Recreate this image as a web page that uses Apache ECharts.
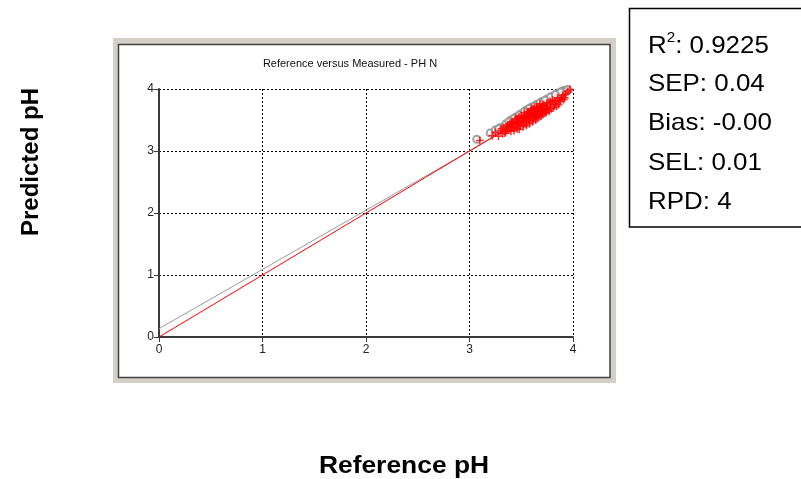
<!DOCTYPE html>
<html>
<head>
<meta charset="utf-8">
<script src="https://cdn.jsdelivr.net/npm/echarts@6/dist/echarts.min.js"></script>
<style>
  html, body { margin: 0; padding: 0; background: #ffffff; }
  #chart { width: 801px; height: 479px; }
</style>
</head>
<body>
<div id="chart"></div>
<script>
// Axis ticks
const axisTicks = [0, 1, 2, 3, 4];

// Validation samples (red crosses): reference pH vs predicted pH
const crossRef = [3.10, 3.22, 3.25, 3.28, 3.30, 3.32, 3.33, 3.35, 3.36, 3.38, 3.39, 3.40, 3.41, 3.42, 3.43,
  3.44, 3.45, 3.46, 3.47, 3.48, 3.49, 3.50, 3.51, 3.52, 3.53, 3.54, 3.55, 3.56, 3.57, 3.58, 3.59, 3.60,
  3.61, 3.62, 3.63, 3.64, 3.65, 3.66, 3.67, 3.68, 3.69, 3.70, 3.71, 3.72, 3.73, 3.74, 3.75, 3.76, 3.78,
  3.80, 3.81, 3.83, 3.85, 3.86, 3.88, 3.90, 3.92, 3.95, 3.97, 3.50, 3.55, 3.60, 3.65, 3.58, 3.62,
  3.31, 3.34, 3.37, 3.40, 3.42, 3.44, 3.46, 3.48, 3.50, 3.52, 3.53, 3.55, 3.56, 3.58, 3.59, 3.61,
  3.62, 3.64, 3.65, 3.66, 3.67, 3.69, 3.70, 3.71, 3.72, 3.74, 3.75, 3.77, 3.78, 3.79, 3.82, 3.84,
  3.87, 3.89, 3.91, 3.93, 3.45, 3.48, 3.53, 3.57, 3.60, 3.63, 3.68, 3.52, 3.57, 3.62, 3.66, 3.70,
  3.74, 3.40, 3.36, 3.47, 3.55, 3.63, 3.69];
const crossPred = [3.17, 3.25, 3.30, 3.24, 3.33, 3.28, 3.38, 3.31, 3.40, 3.34, 3.44, 3.37, 3.47, 3.40, 3.33,
  3.50, 3.43, 3.36, 3.53, 3.46, 3.40, 3.56, 3.49, 3.43, 3.58, 3.52, 3.46, 3.62, 3.55, 3.49, 3.65, 3.58,
  3.51, 3.68, 3.61, 3.55, 3.70, 3.63, 3.57, 3.73, 3.66, 3.60, 3.75, 3.68, 3.62, 3.72, 3.78, 3.66, 3.75,
  3.82, 3.70, 3.79, 3.86, 3.75, 3.82, 3.90, 3.86, 3.96, 3.99, 3.52, 3.58, 3.63, 3.67, 3.60, 3.66,
  3.36, 3.29, 3.42, 3.32, 3.46, 3.38, 3.48, 3.35, 3.47, 3.39, 3.52, 3.41, 3.55, 3.44, 3.58, 3.47,
  3.60, 3.50, 3.64, 3.53, 3.66, 3.56, 3.70, 3.59, 3.73, 3.62, 3.70, 3.64, 3.80, 3.68, 3.76, 3.72,
  3.80, 3.85, 3.83, 3.92, 3.52, 3.55, 3.62, 3.63, 3.68, 3.71, 3.76, 3.48, 3.50, 3.54, 3.58, 3.65,
  3.67, 3.42, 3.34, 3.44, 3.53, 3.58, 3.63];

// Calibration samples (grey circles)
const circleRef = [3.07, 3.20, 3.25, 3.30, 3.35, 3.40, 3.45, 3.50, 3.55, 3.60, 3.65, 3.70, 3.75, 3.80, 3.85, 3.90, 3.93,
  3.38, 3.48, 3.58, 3.68, 3.78, 3.88, 3.28, 3.43, 3.53, 3.63, 3.73, 3.83, 3.95];
const circlePred = [3.19, 3.29, 3.34, 3.38, 3.44, 3.50, 3.55, 3.60, 3.66, 3.71, 3.75, 3.80, 3.84, 3.88, 3.93, 3.97, 3.98,
  3.47, 3.58, 3.69, 3.78, 3.87, 3.95, 3.36, 3.53, 3.64, 3.73, 3.82, 3.91, 3.99];

// Regression line (grey) and ideal 1:1 line (red)
const fitX = [0, 4];
const fitY = [0.135, 3.955];
const idealX = [0, 4];
const idealY = [0, 4];

// Summary statistics
const statLabels = ['SEP', 'Bias', 'SEL', 'RPD'];
const statValues = ['0.04', '-0.00', '0.01', '4'];
const r2Value = '0.9225';

const zip = (a, b) => a.map((v, i) => [v, b[i]]);

const chart = echarts.init(document.getElementById('chart'), null, { renderer: 'canvas' });

const plusPath = 'path://M-1,0H1M0,-1V1';

const statGraphics = statLabels.map((lab, i) => ({
  type: 'text',
  left: 648,
  top: 72 + i * 39.5,
  scaleX: 1.08,
  style: { text: lab + ': ' + statValues[i], font: '24px "Liberation Sans", Arial, sans-serif', fill: '#000' }
}));

chart.setOption({
  animation: false,
  backgroundColor: '#ffffff',
  grid: { left: 159, right: 228, top: 89, bottom: 142, containLabel: false },
  xAxis: {
    type: 'value', min: 0, max: 4, interval: 1,
    axisLine: { show: true, onZero: false, lineStyle: { color: '#3a3a3a', width: 2 } },
    axisTick: { show: true, length: 5, lineStyle: { color: '#3a3a3a' } },
    axisLabel: { color: '#222', fontSize: 12, fontFamily: '"Liberation Sans", Arial, sans-serif', margin: 7,
      formatter: v => axisTicks.includes(v) ? String(v) : '' },
    splitLine: { show: true, lineStyle: { color: '#000', type: [2, 2], width: 1 } }
  },
  yAxis: {
    type: 'value', min: 0, max: 4, interval: 1,
    axisLine: { show: true, onZero: false, lineStyle: { color: '#3a3a3a', width: 2 } },
    axisTick: { show: true, length: 5, lineStyle: { color: '#3a3a3a' } },
    axisLabel: { color: '#222', fontSize: 12, fontFamily: '"Liberation Sans", Arial, sans-serif', margin: 5,
      formatter: v => axisTicks.includes(v) ? String(v) : '' },
    splitLine: { show: true, lineStyle: { color: '#000', type: [2, 2], width: 1 } }
  },
  series: [
    {
      type: 'line', data: zip(fitX, fitY), symbol: 'none', silent: true,
      lineStyle: { color: '#9a9a9a', width: 1 }, z: 3
    },
    {
      type: 'line', data: zip(idealX, idealY), symbol: 'none', silent: true,
      lineStyle: { color: '#ff0000', width: 1 }, z: 4
    },
    {
      type: 'scatter', data: zip(circleRef, circlePred), symbol: 'emptyCircle', symbolSize: 7,
      itemStyle: { color: '#8c8c8c', borderColor: '#8c8c8c', borderWidth: 1 }, z: 5
    },
    {
      type: 'scatter', data: zip(crossRef, crossPred), symbol: plusPath, symbolSize: 8,
      itemStyle: { color: 'none', borderColor: '#ff0000', borderWidth: 1.6 }, z: 6
    }
  ],
  graphic: [
    // window frame around the plot
    { type: 'rect', z: -20, shape: { x: 113, y: 38, width: 503, height: 345 }, style: { fill: '#d4d0c8' } },
    { type: 'rect', z: -19, shape: { x: 118.5, y: 44.5, width: 491.5, height: 333 },
      style: { fill: '#ffffff', stroke: '#404040', lineWidth: 1.5 } },
    { type: 'text', x: 350, y: 64,
      style: { text: 'Reference versus Measured - PH N', font: '11px "Liberation Sans", Arial, sans-serif', fill: '#111',
        textAlign: 'center', textVerticalAlign: 'middle' } },
    // axis titles
    { type: 'text', x: 31, y: 162, rotation: Math.PI / 2,
      style: { text: 'Predicted pH', font: 'bold 24px "Liberation Sans", Arial, sans-serif', fill: '#000',
        textAlign: 'center', textVerticalAlign: 'middle' } },
    { type: 'text', x: 404, y: 466, scaleX: 1.1,
      style: { text: 'Reference pH', font: 'bold 24px "Liberation Sans", Arial, sans-serif', fill: '#000',
        textAlign: 'center', textVerticalAlign: 'middle' } },
    // statistics box
    { type: 'rect', z: -5, shape: { x: 629.5, y: 8.5, width: 190, height: 218.5 },
      style: { fill: '#ffffff', stroke: '#000000', lineWidth: 1.5 } },
    { type: 'text', left: 648, top: 30, scaleX: 1.08,
      style: { text: '{a|R}{s|2}{a|: ' + r2Value + '}', fill: '#000',
        rich: {
          a: { fontSize: 24, fontFamily: '"Liberation Sans", Arial, sans-serif', lineHeight: 28, verticalAlign: 'bottom' },
          s: { fontSize: 14, fontFamily: '"Liberation Sans", Arial, sans-serif', lineHeight: 28, verticalAlign: 'top', padding: [1, 0, 0, 0] }
        } } }
  ].concat(statGraphics)
});
</script>
</body>
</html>
